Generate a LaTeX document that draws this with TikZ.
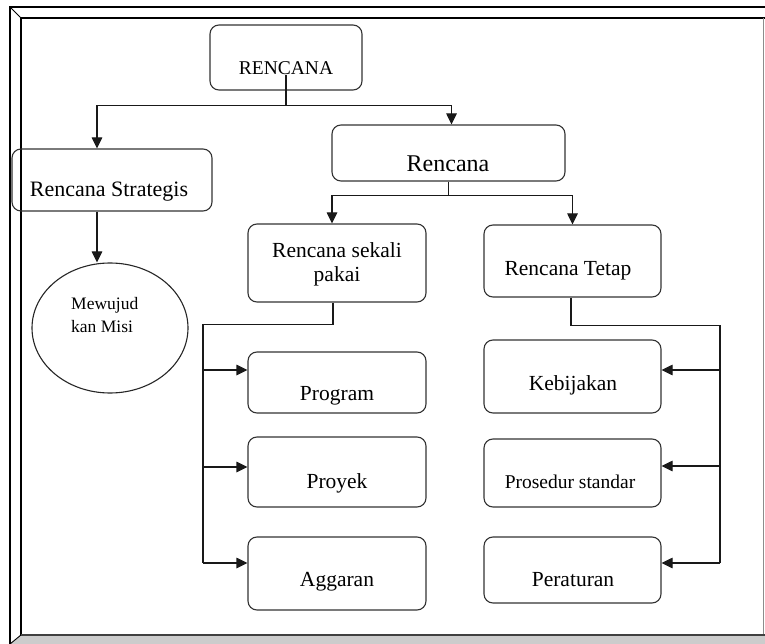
\documentclass[tikz,border=0pt]{standalone}
\usepackage{fontspec}
\setmainfont{Liberation Serif}
\usetikzlibrary{arrows.meta,shapes.geometric}
\begin{document}
\begin{tikzpicture}[x=1pt,y=-1pt,
  box/.style={draw=black!80, line width=1.1pt, rounded corners=9pt, inner sep=0pt},
  lbl/.style={anchor=base, inner sep=0pt, font=\fontsize{21.5}{24}\selectfont},
  conn/.style={line width=1.1pt, draw=black!90},
  arr/.style={conn, -{Triangle[length=11pt,width=10.5pt]}}]
\useasboundingbox (0,0) rectangle (765,644);
% frame
\fill[gray!40] (10,644) -- (21,635) -- (765,635) -- (765,644) -- cycle;
\draw[line width=1.2pt] (765,7) -- (10,7) -- (10,644);
\draw[line width=0.9pt] (10,7) -- (21,18);
\draw[line width=0.9pt] (10,644) -- (21,635);
\draw[line width=1.2pt] (21,635) -- (21,18) -- (765,18);
\draw[line width=0.6pt, black!45] (763,18) -- (763,635);
\draw[line width=2pt, black!75] (21,635) -- (765,635);
% boxes
\node[box, minimum width=152pt, minimum height=65pt] (top) at (286,57.5) {};
\node[box, minimum width=200pt, minimum height=62pt] (strat) at (112,180) {};
\node[box, minimum width=233pt, minimum height=56pt] (rplan) at (448.5,153) {};
\node[box, minimum width=178pt, minimum height=78pt] (sekali) at (337,263) {};
\node[box, minimum width=177pt, minimum height=72pt] (tetap) at (572.5,261) {};
\node[box, minimum width=178pt, minimum height=61pt] (prog) at (337,382.5) {};
\node[box, minimum width=178pt, minimum height=70pt] (proy) at (337,472) {};
\node[box, minimum width=178pt, minimum height=73pt] (agg) at (337,573.5) {};
\node[box, minimum width=177pt, minimum height=73pt] (keb) at (572.5,376.5) {};
\node[box, minimum width=177pt, minimum height=68pt] (pros) at (572.5,473) {};
\node[box, minimum width=177pt, minimum height=66pt] (per) at (572.5,570) {};
\node[ellipse, draw=black!85, line width=1.1pt, minimum width=156pt, minimum height=130pt, inner sep=0pt] (ell) at (110,328) {};
% texts
\node[lbl, font=\fontsize{19.5}{22}\selectfont] (tR) at (286,75) {RENCANA};
\node[lbl, font=\fontsize{22}{24}\selectfont] (tS) at (109,197) {Rencana Strategis};
\node[lbl, font=\fontsize{24}{26}\selectfont] (tP) at (448,172) {Rencana};
\node[inner sep=0pt, align=center, font=\fontsize{21.5}{24}\selectfont] (tSk) at (337,264) {Rencana sekali\\pakai};
\node[lbl] (tT) at (568,275) {Rencana Tetap};
\node[inner sep=0pt, align=left, anchor=west, font=\fontsize{17.5}{23}\selectfont] (tM) at (71,315.5) {Mewujud\\kan Misi};
\node[lbl] (tPr) at (337,400) {Program};
\node[lbl] (tPy) at (337,488) {Proyek};
\node[lbl] (tA) at (337,586) {Aggaran};
\node[lbl] (tK) at (573,390) {Kebijakan};
\node[lbl, font=\fontsize{19.5}{22}\selectfont] (tPs) at (570,488) {Prosedur standar};
\node[lbl] (tPe) at (573,586) {Peraturan};
% connectors
\draw[conn] (tR.south) -- ++(0,30) coordinate (j1);
\draw[arr] (j1) -| ([xshift=-15pt]strat.north);
\draw[arr] (j1) -| ([xshift=3pt]rplan.north);
\draw[conn] (rplan.south) -- ++(0,14) coordinate (j2);
\draw[arr] (j2) -| ([xshift=-5pt]sekali.north);
\draw[arr] (j2) -| (tetap.north);
\coordinate (sd) at ([xshift=-15pt]strat.south);
\draw[arr] (sd) -- (sd |- ell.north);
% left bus
\coordinate (LE) at (203,563);
\draw[conn] ([xshift=-4pt]sekali.south) -- ++(0,22) -| (LE);
\path ([yshift=12.5pt]prog.west) coordinate (pa);
\path ([yshift=5pt]proy.west) coordinate (pb);
\path ([yshift=10.5pt]agg.west) coordinate (pc);
\draw[arr] (LE |- pa) -- (pa);
\draw[arr] (LE |- pb) -- (pb);
\draw[arr] (LE |- pc) -- (pc);
% right bus
\coordinate (RE) at (720,563);
\draw[conn] ([xshift=-1.5pt]tetap.south) -- ++(0,28) -| (RE);
\path ([yshift=6.5pt]keb.east) coordinate (qa);
\path ([yshift=7pt]pros.east) coordinate (qb);
\path ([yshift=7pt]per.east) coordinate (qc);
\draw[arr] (RE |- qa) -- (qa);
\draw[arr] (RE |- qb) -- (qb);
\draw[arr] (RE |- qc) -- (qc);
\end{tikzpicture}
\end{document}
